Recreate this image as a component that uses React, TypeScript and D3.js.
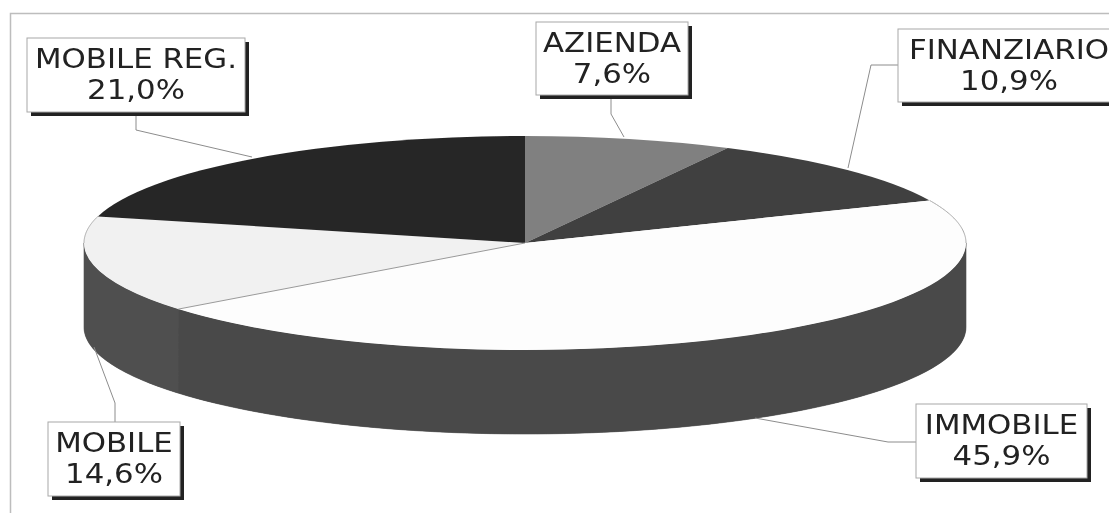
import React from "react";
import * as d3 from "d3";

const categories = ["AZIENDA", "FINANZIARIO", "IMMOBILE", "MOBILE", "MOBILE REG."];
const percentages = [7.6, 10.9, 45.9, 14.6, 21.0];
const percentLabels = ["7,6%", "10,9%", "45,9%", "14,6%", "21,0%"];

const topColors = ["#808080", "#404040", "#fdfdfd", "#f1f1f1", "#262626"];
const sideColors = ["#6a6a6a", "#333333", "#4a4a4a", "#505050", "#1e1e1e"];

const W = 1109, H = 513;
const CX = 525, CY = 243, RX = 441, RY = 107, DEPTH = 84;

// label box layout: left, top, right, bottom, leader polyline
const boxes = [
  { x0: 536, y0: 22, x1: 688, y1: 95, leader: [[611, 95], [611, 114], [624, 137]] },
  { x0: 898, y0: 29, x1: 1125, y1: 102, cx: 1009, leader: [[898, 65], [871, 65], [848, 168]] },
  { x0: 916, y0: 404, x1: 1087, y1: 478, leader: [[916, 442], [888, 442], [755, 418]] },
  { x0: 48, y0: 422, x1: 180, y1: 496, leader: [[115, 422], [115, 403], [94, 347]] },
  { x0: 27, y0: 38, x1: 245, y1: 112, leader: [[136, 112], [136, 130], [252, 157]] },
];

const pie = d3.pie<number>().sort(null).startAngle(0).endAngle(2 * Math.PI);
const arcs = pie(percentages);
const arcGen = d3.arc<d3.PieArcDatum<number>>().innerRadius(0).outerRadius(RX);
const line = d3.line();

const pt = (a: number, dy = 0): [number, number] => [
  CX + RX * Math.sin(a),
  CY - RY * Math.cos(a) + dy,
];

function sidePath(start: number, end: number): string | null {
  const s = Math.max(start, Math.PI / 2);
  const e = Math.min(end, (3 * Math.PI) / 2);
  if (e <= s) return null;
  const angles = d3.range(0, 81).map((i) => s + ((e - s) * i) / 80);
  const top = angles.map((a) => pt(a));
  const bottom = angles.slice().reverse().map((a) => pt(a, DEPTH));
  return line([...top, ...bottom]) + "Z";
}

export default function App() {
  return (
    <svg
      width={W}
      height={H}
      viewBox={`0 0 ${W} ${H}`}
      style={{ position: "absolute", left: 0, top: 0, background: "#fff" }}
      fontFamily="'DejaVu Sans', Verdana, sans-serif"
    >
      <defs>
        <filter id="soft" x="-2%" y="-2%" width="104%" height="104%">
          <feGaussianBlur stdDeviation="0.45" />
        </filter>
      </defs>
      <g filter="url(#soft)">
        <path d={`M${W + 5},13.5H10.5V${H + 5}`} fill="none" stroke="#bdbdbd" strokeWidth={1.5} />

        <path d={sidePath(Math.PI / 2, (3 * Math.PI) / 2) || ""} fill={sideColors[2]} />
        {arcs.map((d, i) => {
          const p = sidePath(d.startAngle, d.endAngle);
          return p ? <path key={i} d={p} fill={sideColors[i]} stroke={sideColors[i]} strokeWidth={0.6} /> : null;
        })}

        <g transform={`translate(${CX},${CY}) scale(1,${RY / RX})`}>
          {arcs.map((d, i) => (
            <path key={i} d={arcGen(d) || ""} fill={topColors[i]} />
          ))}
        </g>
        <path d={line([pt(arcs[2].endAngle), [CX, CY]]) || ""} stroke="#9a9a9a" strokeWidth={1} fill="none" />
        <path
          d={line(d3.range(0, 41).map((i) => pt(arcs[2].startAngle + ((Math.PI / 2 - arcs[2].startAngle) * i) / 40))) || ""}
          fill="none"
          stroke="#a8a8a8"
        />
        <path
          d={line(d3.range(0, 41).map((i) => pt((3 * Math.PI) / 2 + ((arcs[3].endAngle - (3 * Math.PI) / 2) * i) / 40))) || ""}
          fill="none"
          stroke="#a8a8a8"
        />

        {boxes.map((b, i) => {
          const tx = b.cx ?? (b.x0 + b.x1) / 2;
          return (
            <g key={i}>
              <path d={line(b.leader as [number, number][]) || ""} fill="none" stroke="#8c8c8c" strokeWidth={1} />
              <rect x={b.x0 + 4} y={b.y0 + 4} width={b.x1 - b.x0} height={b.y1 - b.y0} fill="#222" />
              <rect x={b.x0} y={b.y0} width={b.x1 - b.x0} height={b.y1 - b.y0} fill="#fff" stroke="#a8a8a8" strokeWidth={1} />
              <text transform={`translate(${tx},${b.y0 + 30}) scale(1.185,1)`} textAnchor="middle" fontSize={26} fill="#222">
                {categories[i]}
              </text>
              <text transform={`translate(${tx},${b.y0 + 61}) scale(1.185,1)`} textAnchor="middle" fontSize={26} fill="#222">
                {percentLabels[i]}
              </text>
            </g>
          );
        })}
      </g>
    </svg>
  );
}
